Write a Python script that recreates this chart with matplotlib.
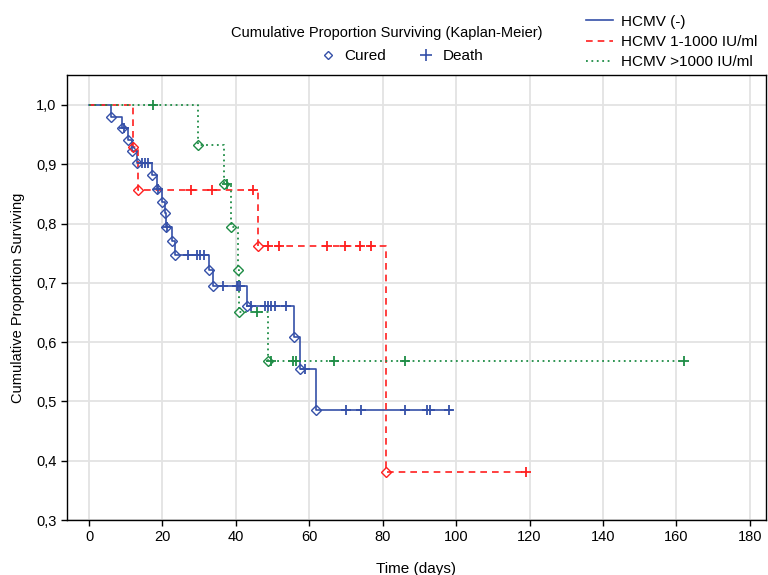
"""Kaplan-Meier survival curves by HCMV load group."""

import matplotlib

matplotlib.use("Agg")
import matplotlib.pyplot as plt
import numpy as np
from matplotlib.lines import Line2D
from matplotlib.ticker import FuncFormatter

plt.rcParams["font.family"] = ["Liberation Sans", "DejaVu Sans"]
plt.rcParams["font.size"] = 10

# HCMV (-)
neg_step_t = [6, 9, 10.5, 11.8, 13.2, 17.2, 18.5, 19.8, 20.6, 21.0, 22.5, 23.5,
              32.8, 33.7, 42.9, 55.9, 57.5, 61.8]
neg_step_s = [0.980, 0.961, 0.941, 0.922, 0.902, 0.882, 0.858, 0.837, 0.817, 0.795,
              0.770, 0.747, 0.722, 0.695, 0.661, 0.609, 0.554, 0.486]
neg_cens_t = [9.5, 14.5, 15.3, 16.1, 18.8, 21.3, 27, 29.4, 30.3, 31.3, 36.6, 40.2,
              40.6, 41.0, 44.0, 48.0, 48.8, 49.7, 50.6, 53.6, 58.8, 70, 74, 86, 92,
              92.8, 98]
neg_end = 99

# HCMV 1-1000 IU/ml
low_step_t = [12.1, 13.4, 45.9, 81]
low_step_s = [0.929, 0.857, 0.762, 0.381]
low_cens_t = [27.7, 33.6, 44.6, 48.7, 51.7, 64.7, 69.7, 73.8, 76.7, 119]
low_end = 119

# HCMV >1000 IU/ml
high_step_t = [29.8, 36.8, 38.7, 40.6, 40.9, 48.8]
high_step_s = [0.933, 0.867, 0.794, 0.722, 0.650, 0.569]
high_cens_t = [17.3, 37.6, 45.7, 49.7, 55.6, 56.5, 66.7, 86, 162]
high_end = 162

groups = [
    ("HCMV (-)", neg_step_t, neg_step_s, neg_cens_t, neg_end, "#3550a8", "-", 1.2),
    ("HCMV 1-1000 IU/ml", low_step_t, low_step_s, low_cens_t, low_end, "#ff1f1f", (0, (4, 3)), 1.2),
    ("HCMV >1000 IU/ml", high_step_t, high_step_s, high_cens_t, high_end, "#1e8c45", (0, (1, 2)), 1.3),
]


def surv_at(times, surv, t):
    idx = np.searchsorted(np.array(times), t, side="right") - 1
    return 1.0 if idx < 0 else surv[idx]


fig = plt.figure(figsize=(7.68, 5.75), dpi=100)
ax = fig.add_axes([67 / 768, 1 - 520 / 575, 699 / 768, 445 / 575])

for label, st, ss, ct, end, color, ls, lw in groups:
    xs = [0] + list(st) + [end]
    ys = [1.0] + list(ss) + [ss[-1]]
    ax.step(xs, ys, where="post", color=color, linestyle=ls, linewidth=lw, zorder=3)
    ax.plot(st, ss, linestyle="none", marker="D", markersize=5,
            markerfacecolor="none", markeredgecolor=color, markeredgewidth=1.0, zorder=4)
    cy = [surv_at(st, ss, t) for t in ct]
    ax.plot(ct, cy, linestyle="none", marker="+", markersize=7.5,
            markeredgecolor=color, markeredgewidth=1.3, zorder=4)

ax.set_xlim(-6, 184.4)
ax.set_ylim(0.3, 1.0506)
ax.set_xticks(np.arange(0, 181, 20))
ax.set_yticks(np.arange(0.3, 1.01, 0.1))
ax.yaxis.set_major_formatter(FuncFormatter(lambda v, _: f"{v:.1f}".replace(".", ",")))
ax.grid(True, color="#e3e3e3", linewidth=1.3)
ax.set_axisbelow(True)
ax.tick_params(direction="out", length=4, width=1, labelsize=10.5, colors="black")
for spine in ax.spines.values():
    spine.set_color("black")
    spine.set_linewidth(1)

ax.set_xlabel("Time (days)", fontsize=11, labelpad=13)
ax.set_ylabel("Cumulative Proportion Surviving", fontsize=10.5, labelpad=8)

fig.text(0.503, 1 - 33 / 575, "Cumulative Proportion Surviving (Kaplan-Meier)",
         ha="center", va="center", fontsize=10.5)
mark_handles = [
    Line2D([], [], linestyle="none", marker="D", markersize=4.5, markerfacecolor="none",
           markeredgecolor="#3550a8", markeredgewidth=1.0),
    Line2D([], [], linestyle="none", marker="+", markersize=8, markeredgecolor="#3550a8",
           markeredgewidth=1.2),
]
fig.legend(mark_handles, ["Cured", "Death"], loc="center", bbox_to_anchor=(0.522, 1 - 56 / 575),
           ncol=2, frameon=False, fontsize=11, handlelength=1.2, handletextpad=0.5,
           columnspacing=2.0)

line_handles = [
    Line2D([], [], color=c, linestyle=ls, linewidth=lw) for _, _, _, _, _, c, ls, lw in groups
]
fig.legend(line_handles, [g[0] for g in groups], loc="upper left",
           bbox_to_anchor=(572 / 768, 1 - 1 / 575), frameon=False, fontsize=11,
           handlelength=1.8, handletextpad=0.5, labelspacing=0.4)

fig.savefig("out.png", dpi=100)
